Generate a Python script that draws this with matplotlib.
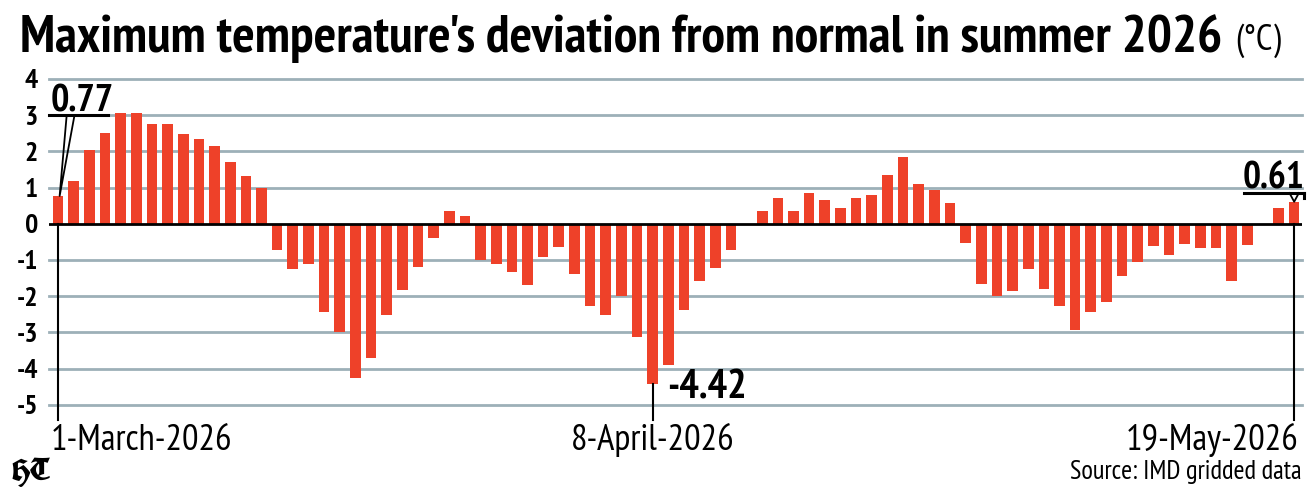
import matplotlib
matplotlib.use("Agg")
import matplotlib.pyplot as plt
from matplotlib import font_manager as fm
import numpy as np

# ---- data ----
dates_first = "1-March-2026"
dates_mid = "8-April-2026"
dates_last = "19-May-2026"
deviation = [
    0.77, 1.18, 2.03, 2.52, 3.05, 3.05, 2.77, 2.77, 2.48, 2.35,
    2.16, 1.71, 1.31, 0.99, -0.71, -1.24, -1.12, -2.43, -3.00, -4.27,
    -3.70, -2.51, -1.83, -1.18, -0.40, 0.35, 0.22, -1.01, -1.10, -1.34,
    -1.70, -0.93, -0.64, -1.39, -2.26, -2.53, -2.00, -3.13, -4.42, -3.89,
    -2.37, -1.57, -1.23, -0.72, 0.0, 0.35, 0.72, 0.36, 0.84, 0.66,
    0.43, 0.70, 0.79, 1.35, 1.84, 1.09, 0.92, 0.58, -0.54, -1.65,
    -2.00, -1.86, -1.25, -1.81, -2.26, -2.92, -2.44, -2.17, -1.44, -1.05,
    -0.60, -0.86, -0.55, -0.67, -0.66, -1.59, -0.58, 0.0, 0.44, 0.61,
]
y_ticks = [4, 3, 2, 1, 0, -1, -2, -3, -4, -5]
title = "Maximum temperature's deviation from normal in summer 2026"
unit = "(°C)"
source = "Source: IMD gridded data"
logo = "HT"

names = {f.name for f in fm.fontManager.ttflist}
def pick(cands):
    for c in cands:
        if c in names:
            return c
    return "DejaVu Sans"
NARROW = pick(["PT Sans Narrow", "Fira Sans Condensed", "Roboto Condensed", "Liberation Sans Narrow"])
FRAK = pick(["UnifrakturCook", "UnifrakturMaguntia", "DejaVu Serif"])

BAR = "#EE4129"
GRID = "#9DB0B8"
W, H = 1316, 496

fig = plt.figure(figsize=(W / 100, H / 100), dpi=100)
renderer = fig.canvas.get_renderer()

def fy(py):
    return 1 - py / H

def fit(t, target_w):
    w = t.get_window_extent(renderer).width
    t.set_fontsize(t.get_fontsize() * target_w / w)
    return t

ax = fig.add_axes([49 / W, fy(420), (1302 - 49) / W, (420 - 79) / H])

x = np.arange(len(deviation))
ax.bar(x, deviation, width=0.68, color=BAR, zorder=3)

ax.set_xlim(-0.58, len(deviation) - 0.5)
ax.set_ylim(-5.42, 4)
for v in y_ticks:
    if v == 0:
        continue
    ax.axhline(v, color=GRID, lw=2, zorder=1, clip_on=False)
ax.axhline(0, color="black", lw=2, zorder=4)

for s in ax.spines.values():
    s.set_visible(False)
ax.set_xticks([])
ax.set_yticks(y_ticks)
ax.set_yticklabels([str(v) for v in y_ticks], fontfamily=NARROW, fontweight="bold", fontsize=20)
ax.tick_params(axis="y", length=0, pad=8)

# vertical markers
i_first, i_mid, i_last = 0, 38, len(deviation) - 1
ax.plot([i_first, i_first], [0, -5.42], color="black", lw=1.5, zorder=5, clip_on=False)
ax.plot([i_mid, i_mid], [deviation[i_mid], -5.42], color="black", lw=1.5, zorder=5, clip_on=False)
ax.plot([i_last, i_last], [0, -5.42], color="black", lw=1.5, zorder=5, clip_on=False)

# callout first value
ax.plot([-0.6, 3.2], [3.0, 3.0], color="black", lw=2.2, zorder=5, clip_on=False)
ax.plot([0.55, 0.1, 1.05], [3.0, deviation[0], 3.0], color="black", lw=1.3, zorder=5, clip_on=False)
t1 = ax.text(-0.5, 3.1, f"{deviation[0]:.2f}", fontfamily=NARROW, fontweight="bold",
             fontsize=25, ha="left", va="baseline", zorder=6)
fit(t1, 63)

# callout last value
ax.plot([75.8, 79.6], [0.85, 0.85], color="black", lw=2.2, zorder=5, clip_on=False)
ax.plot([79.6, 79.6], [0.85, 0.72], color="black", lw=2.2, zorder=5, clip_on=False)
ax.plot([78.7, 79.0, 79.3], [0.85, deviation[-1], 0.85], color="black", lw=1.3, zorder=5, clip_on=False)
t2 = ax.text(79.62, 0.98, f"{deviation[-1]:.2f}", fontfamily=NARROW, fontweight="bold",
             fontsize=25, ha="right", va="baseline", zorder=6)
fit(t2, 62)

# label min
t3 = ax.text(i_mid + 0.9, -4.82, f"{deviation[i_mid]:.2f}", fontfamily=NARROW, fontweight="bold",
             fontsize=25, ha="left", va="baseline", zorder=6)
fit(t3, 80)

# date labels
trans = ax.get_xaxis_transform()
yb = -(450 - 420) / (420 - 79)
d1 = ax.text(i_first - 0.5, yb, dates_first, transform=trans, fontfamily=NARROW, fontsize=23,
             ha="left", va="baseline")
d2 = ax.text(i_mid, yb, dates_mid, transform=trans, fontfamily=NARROW, fontsize=23,
             ha="center", va="baseline")
d3 = ax.text(i_last + 0.3, yb, dates_last, transform=trans, fontfamily=NARROW, fontsize=23,
             ha="right", va="baseline")
fit(d1, 182)
for d in (d2, d3):
    d.set_fontsize(d1.get_fontsize())

# title
tt = fig.text(20 / W, fy(52), title, fontfamily=NARROW, fontweight="bold", fontsize=35,
              ha="left", va="baseline")
fit(tt, 1205)
tu = fig.text(1235 / W, fy(50), unit, fontfamily=NARROW, fontsize=20, ha="left", va="baseline")
fit(tu, 46)

tl = fig.text(12 / W, fy(481), logo, fontfamily=FRAK, fontweight="bold",
              fontsize=15, ha="left", va="baseline")
fit(tl, 38)
ts = fig.text(1302 / W, fy(479), source, fontfamily=NARROW, fontsize=17,
              ha="right", va="baseline")
fit(ts, 232)

fig.savefig("out.png", dpi=100)
